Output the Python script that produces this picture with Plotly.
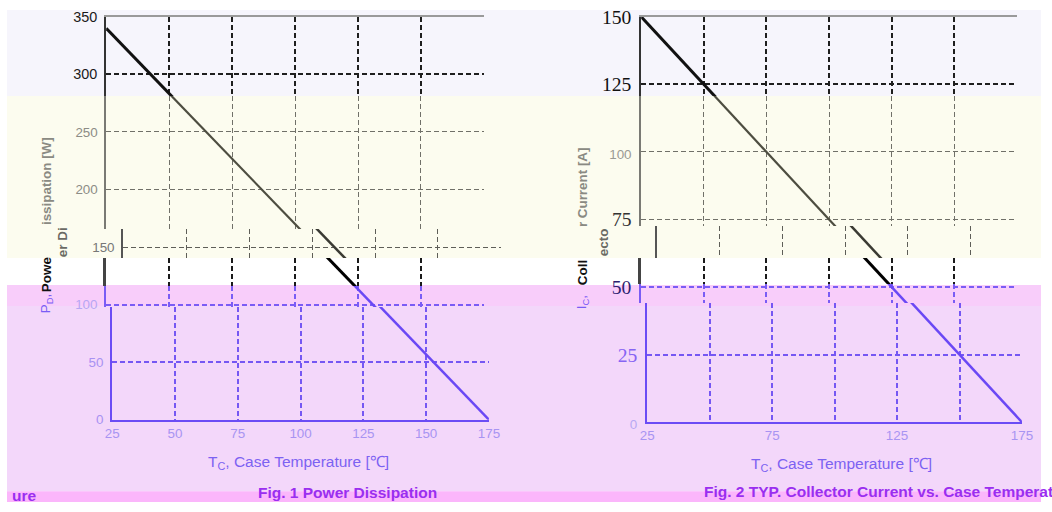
import plotly.graph_objects as go

W, H = 1052, 512
# the snapshot of the page comes back slightly shrunk with a thin border; undo that
SX, BX = 0.981, 9.0
SY, BY = 0.96, 9.2
FS = 1.03

# data
temp_c = [25, 175]
power_w = [340, 0]
current_a = [150, 0]

temp_grid = [25, 50, 75, 100, 125, 150, 175]
power_ticks = [0, 50, 100, 150, 200, 250, 300, 350]
current_ticks = [0, 25, 50, 75, 100, 125, 150]
power_xlabels = [25, 50, 75, 100, 125, 150, 175]
current_xlabels = [25, 75, 125, 175]

SANS = "Liberation Sans, Arial"
SERIF = "Liberation Serif, Times New Roman"

STYLE = {
    "top": dict(grid="#1e1e1e", gw=2, line="#111111", lw=3, axis="#333333", aw=2, frame="#9a9a9a"),
    "yellow": dict(grid="#707068", gw=1.3, line="#4d4d40", lw=2.2, axis="#7a7a74", aw=1.5, frame="#d8d8d0"),
    "strip": dict(grid="#5e5e58", gw=1.3, line="#3a3a33", lw=2.5, axis="#555555", aw=2, frame="#c8c8c0"),
    "white": dict(grid="#1a1a1a", gw=2, line="#000000", lw=3, axis="#444444", aw=3, frame="#999999"),
    "pink_top": dict(grid="#7a5cf5", gw=1.5, line="#6a48f5", lw=2.5, axis="#7a5cf5", aw=2, frame="#e6c8f8"),
    "pink": dict(grid="#7557f3", gw=1.5, line="#6a48f5", lw=2.5, axis="#6b4cf5", aw=2, frame=None),
}

panels = [
    dict(series=power_w, ticks=power_ticks, xlabels=power_xlabels, v_top=350, scale=1.15,
         font=dict(top=(SANS, 14, "#1a1a1a"), yellow=(SANS, 13, "#8c8c86"), strip=(SANS, 13, "#777777"),
                   white=(SANS, 13, "#333333"), pink_top=(SANS, 13, "#b7a6f3"), pink=(SANS, 13, "#a892f2")),
         special={},
         bands=[("top", 16, 95, 108, 485), ("yellow", 95, 228, 108, 485), ("strip", 228, 257, 125, 502),
                ("white", 257, 285, 108, 485), ("pink_top", 285, 306, 108, 485), ("pink", 306, 418.5, 114, 490)]),
    dict(series=current_a, ticks=current_ticks, xlabels=current_xlabels, v_top=150, scale=2.7,
         font=dict(top=(SERIF, 19, "#111111"), yellow=(SERIF, 19, "#333333"), strip=(SERIF, 19, "#555555"),
                   white=(SERIF, 19, "#222222"), pink_top=(SERIF, 19, "#2d2270"), pink=(SERIF, 19, "#8664f3")),
         special={100: "#9a9a94", 0: "#b8a8f3"},
         bands=[("top", 16, 95, 642, 1017), ("yellow", 95, 225, 642, 1017), ("strip", 225, 257, 658, 1033),
                ("white", 257, 283, 642, 1017), ("pink_top", 283, 302, 642, 1017), ("pink", 302, 421, 648, 1022)]),
]


def clamp(v):
    return min(max(v, 0.0), 1.0)


def fx(px):
    return clamp((px - BX) / SX / W)


def fy(px):
    return clamp(1 - (px - BY) / SY / H)


def fs(size):
    return round(size * FS, 1)


fig = go.Figure()
layout = {}
n = 0
for p in panels:
    for name, pt, pb, xl, xr in p["bands"]:
        n += 1
        s = STYLE[name]
        sfx = "" if n == 1 else str(n)
        lo = p["v_top"] - (pb - 16) / p["scale"]
        hi = p["v_top"] - (pt - 16) / p["scale"]
        yt = [v for v in p["ticks"] if lo - 0.6 <= v <= hi + 0.6]
        ytext = []
        for v in yt:
            if v in p["special"]:
                ytext.append(f'<span style="font-family:Liberation Sans;font-size:{fs(13)}px;'
                             f'color:{p["special"][v]}">{v}</span>')
            else:
                ytext.append(str(v))
        fam, size, col = p["font"][name]
        last = name == "pink"
        if last:
            major = p["xlabels"]
            minor = [v for v in temp_grid if v not in major]
        else:
            major = temp_grid[1:-1]
            minor = [175]
        layout["xaxis" + sfx] = dict(
            domain=[fx(xl), fx(xr)], range=[25, 175], anchor="y" + sfx,
            tickvals=major, ticktext=[str(v) for v in major],
            showticklabels=last, ticks="", showgrid=True, zeroline=False,
            gridcolor=s["grid"], gridwidth=s["gw"], griddash="5px,3px",
            tickfont=dict(family=SANS, size=fs(13), color="#a894f2"),
            showline=name in ("top", "pink"), side="top" if name == "top" else "bottom",
            linecolor=s["frame"] if name == "top" else s["axis"], linewidth=2,
            fixedrange=True,
            minor=dict(tickvals=minor, showgrid=True,
                       gridcolor=s["grid"] if last else s["frame"],
                       griddash="5px,3px" if last else "solid",
                       gridwidth=s["gw"] if last else 2),
        )
        layout["yaxis" + sfx] = dict(
            domain=[fy(pb), fy(pt)], range=[lo, hi], anchor="x" + sfx,
            tickvals=yt, ticktext=ytext, ticks="", ticklabelstandoff=4,
            showgrid=True, zeroline=False, gridcolor=s["grid"], gridwidth=s["gw"], griddash="5px,3px",
            showline=True, linecolor=s["axis"], linewidth=s["aw"],
            tickfont=dict(family=fam, size=fs(size), color=col), fixedrange=True,
        )
        fig.add_trace(go.Scatter(x=temp_c, y=p["series"], mode="lines", xaxis="x" + sfx, yaxis="y" + sfx,
                                 line=dict(color=s["line"], width=s["lw"]), hoverinfo="skip", showlegend=False))


def rect(x0, y0, x1, y1, color):
    return dict(type="rect", xref="paper", yref="paper", layer="below", line=dict(width=0),
                x0=fx(x0), x1=fx(x1), y0=fy(y1), y1=fy(y0), fillcolor=color)


shapes = [
    rect(0, 0, 1052, 95, "#f6f5fc"),
    rect(5, 95, 1052, 257, "#fcfcef"),
    rect(5, 285, 1052, 490, "#f3d7fa"),
    rect(5, 284, 1052, 305, "#f8cdfa"),
    rect(5, 490, 1052, 510, "#fbb6fb"),
]


def note(text, x, y, color, size=13, bold=False, angle=0, xanchor="center", yanchor="middle", family=SANS):
    if bold:
        text = "<b>" + text + "</b>"
    return dict(text=text, x=fx(x), y=fy(y), xref="paper", yref="paper", showarrow=False,
                textangle=angle, xanchor=xanchor, yanchor=yanchor,
                font=dict(family=family, size=fs(size), color=color))


annotations = [
    # left y title, broken up as in the picture
    note("issipation [W]", 48, 226, "#8a8a82", bold=True, angle=-90, yanchor="bottom"),
    note("er Di", 64, 241, "#6a6a64", bold=True, angle=-90),
    note("Powe", 48, 274, "#111111", bold=True, angle=-90),
    note("P<sub>D</sub>,", 48, 303, "#7a5cf5", angle=-90),
    # right y title
    note("r Current [A]", 583, 228, "#8a8a82", bold=True, angle=-90, yanchor="bottom"),
    note("ecto", 604, 241, "#6a6a64", bold=True, angle=-90),
    note("Coll", 583, 272, "#111111", bold=True, angle=-90),
    note("I<sub>C</sub>,", 583, 301, "#7a5cf5", angle=-90),
    # x titles
    note("T<sub>C</sub>, Case Temperature [℃]", 300, 461, "#7c62f2", size=15),
    note("T<sub>C</sub>, Case Temperature [℃]", 842, 463, "#7c62f2", size=15),
    # captions
    note("Fig. 1 Power Dissipation", 258, 491, "#9a2ef0", size=15, bold=True, xanchor="left"),
    note("Fig. 2 TYP. Collector Current vs. Case Temperat", 703, 490, "#9a2ef0", size=15, bold=True,
         xanchor="left"),
    note("ure", 12, 494, "#9a2ef0", size=15, bold=True, xanchor="left"),
]

fig.update_layout(
    width=W, height=H, margin=dict(l=0, r=0, t=0, b=0),
    paper_bgcolor="#ffffff", plot_bgcolor="rgba(0,0,0,0)",
    shapes=shapes, annotations=annotations, showlegend=False,
    **layout,
)

fig.write_html("out.html", config={"displayModeBar": False},
               post_script="document.body.style.margin='0';document.body.style.overflow='hidden';")
